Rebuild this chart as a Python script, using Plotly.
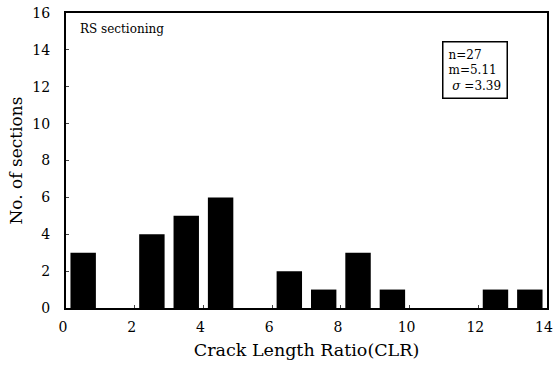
import plotly.graph_objects as go

bin_centers = [0.5, 2.5, 3.5, 4.5, 6.5, 7.5, 8.5, 9.5, 12.5, 13.5]
counts = [3, 4, 5, 6, 2, 1, 3, 1, 1, 1]
x_ticks = [0, 2, 4, 6, 8, 10, 12, 14]
y_ticks = [0, 2, 4, 6, 8, 10, 12, 14, 16]

font_family = "DejaVu Serif, Liberation Serif, serif"

fig = go.Figure()
fig.add_trace(go.Bar(x=bin_centers, y=counts, width=0.74,
                     marker=dict(color="black", line=dict(width=0))))

fig.update_layout(
    width=553, height=369,
    margin=dict(l=66, r=6, t=13, b=61),
    paper_bgcolor="white", plot_bgcolor="white",
    showlegend=False,
    font=dict(family=font_family, color="black", size=14),
    xaxis=dict(range=[0, 14], tickvals=x_ticks, ticks="inside", ticklen=3,
               showline=True, linecolor="black", linewidth=2, mirror=True,
               showgrid=False, zeroline=False, tickfont=dict(size=14),
               automargin=False, ticklabelstandoff=5, ticklabelshift=-3,
               ticklabeloverflow="allow",
               title=dict(text="Crack Length Ratio(CLR)", font=dict(size=17.5), standoff=10)),
    yaxis=dict(range=[0, 16], tickvals=y_ticks, ticks="inside", ticklen=3,
               showline=True, linecolor="black", linewidth=2, mirror=True,
               showgrid=False, zeroline=False, tickfont=dict(size=14),
               automargin=False, ticklabelstandoff=11,
               title=dict(text="No. of sections", font=dict(size=17), standoff=5)),
)

fig.add_annotation(xref="paper", yref="paper", x=0.782, y=0.905,
                   xanchor="left", yanchor="top", showarrow=False,
                   text="n=27<br>m=5.11<br> <i>σ</i> =3.39", align="left",
                   font=dict(size=12), bordercolor="black", borderwidth=1.5,
                   borderpad=5, bgcolor="white")
fig.add_annotation(xref="paper", yref="paper", x=0.025, y=0.975,
                   xanchor="left", yanchor="top", showarrow=False,
                   text="RS sectioning", font=dict(size=12))

fig.write_html("out.html", config={"displayModeBar": False},
               post_script="document.body.style.margin='0';document.body.style.overflow='hidden';")
